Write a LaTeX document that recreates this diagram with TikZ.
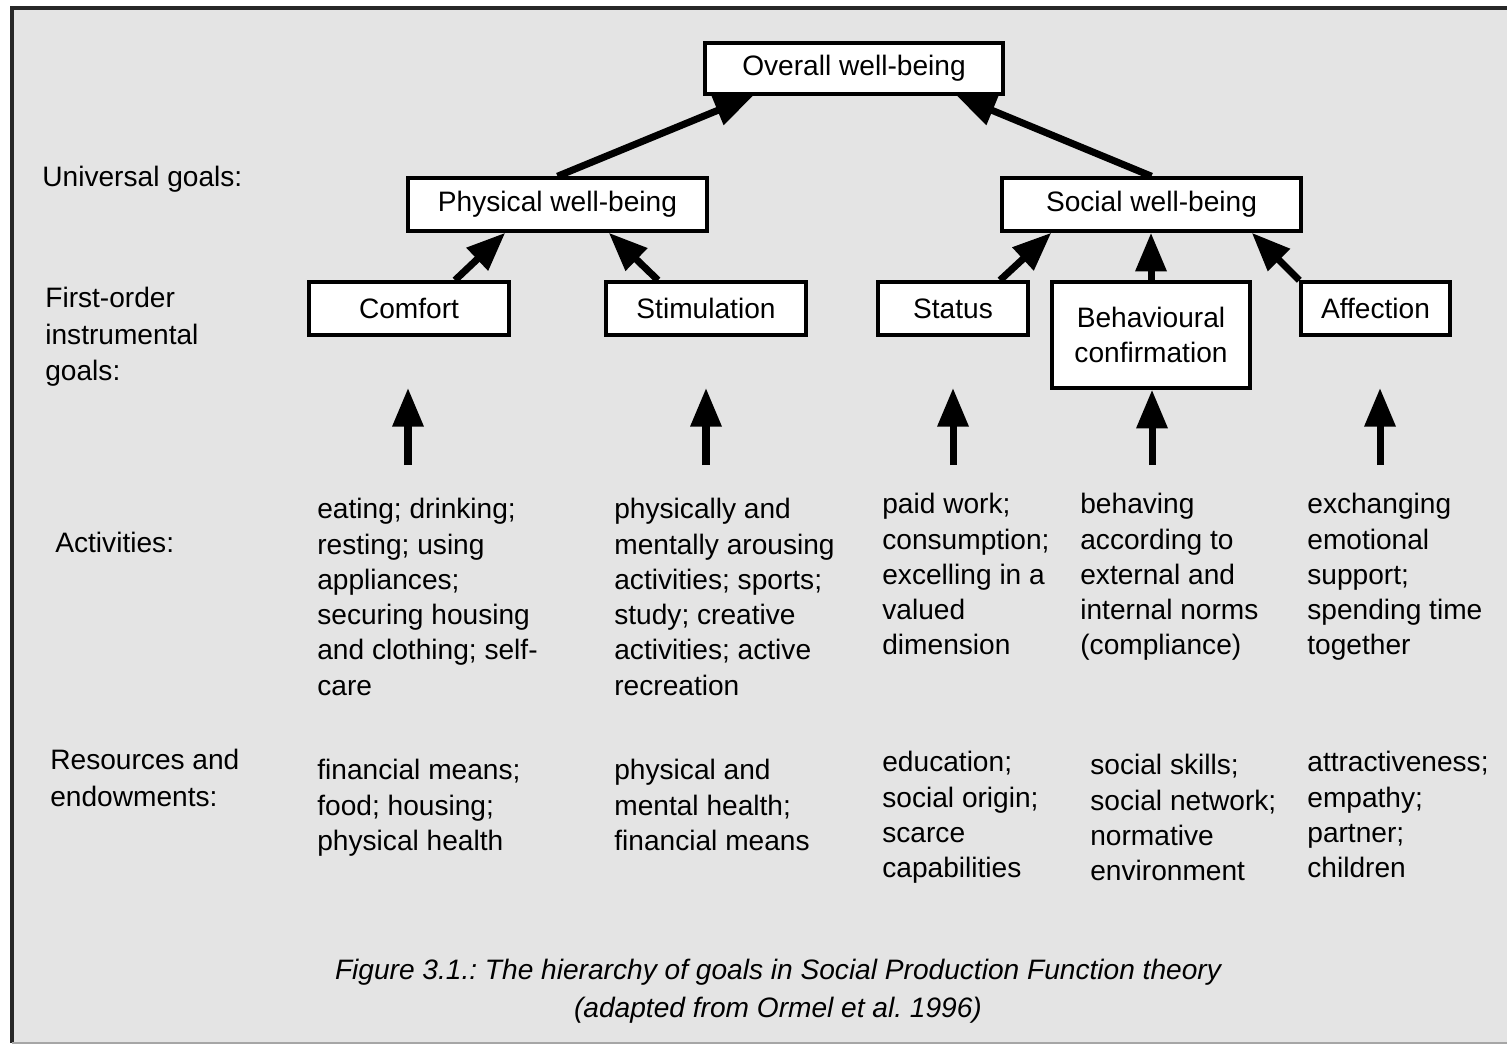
\documentclass[tikz,border=0pt]{standalone}
\usepackage{fontspec}
\setmainfont{Liberation Sans}
\usetikzlibrary{arrows.meta}
\definecolor{panel}{RGB}{228,228,228}
\definecolor{rim}{RGB}{40,40,40}
\frenchspacing
\begin{document}
\begin{tikzpicture}[x=0.02cm,y=-0.02cm,
  goalbox/.style={draw=black, line width=2pt, fill=white, rectangle,
    inner sep=0pt, align=center, font=\fontsize{16}{20.1}\selectfont},
  txt/.style={anchor=north west, inner sep=0pt, align=left,
    font=\fontsize{16}{20.1}\selectfont, execute at begin node=\strut},
  link/.style={line width=4pt, -{Triangle[length=22pt,width=17pt]}},
  caption/.style={inner sep=0pt, align=center,
    font=\fontsize{16}{21.6}\selectfont\itshape}]
\useasboundingbox (0,0) rectangle (1507,1045);
\clip (0,0) rectangle (1507,1045);
% panel
\fill[panel] (12,8) rectangle (1520,1043);
\draw[rim, line width=2.2pt] (12,1043) -- (12,8) -- (1520,8);
\draw[gray!70, line width=1pt] (12,1043) -- (1520,1043);

% goal boxes
\node[goalbox, minimum width=5.96cm, minimum height=1.02cm] (overall) at (854,68.5) {Overall well-being};
\node[goalbox, minimum width=5.98cm, minimum height=1.06cm] (phys) at (557.5,204.5) {Physical well-being};
\node[goalbox, minimum width=5.98cm, minimum height=1.06cm] (social) at (1151.5,204.5) {Social well-being};
\node[goalbox, minimum width=4.00cm, minimum height=1.06cm] (comfort) at (409,308.5) {Comfort};
\node[goalbox, minimum width=4.00cm, minimum height=1.06cm] (stim) at (706,308.5) {Stimulation};
\node[goalbox, minimum width=3.00cm, minimum height=1.06cm] (status) at (953,308.5) {Status};
\node[goalbox, minimum width=3.96cm, minimum height=2.12cm] (behav) at (1151,335) {Behavioural\\confirmation};
\node[goalbox, minimum width=2.98cm, minimum height=1.06cm] (affect) at (1375.5,308.5) {Affection};

% links between goal levels
\draw[link] (phys.north) -- ([xshift=1cm]overall.south west);
\draw[link] (social.north) -- ([xshift=-0.96cm]overall.south east);
\draw[link] ([xshift=0.92cm]comfort.north) -- ([xshift=1.98cm]phys.south west);
\draw[link] ([xshift=-0.96cm]stim.north) -- ([xshift=-2cm]phys.south east);
\draw[link] ([xshift=0.94cm]status.north) -- ([xshift=1.02cm]social.south west);
\draw[link] (behav.north) -- (behav.north |- social.south);
\draw[link] (affect.north west) -- ([xshift=-1.02cm]social.south east);

% activities feeding the first-order goals
\coordinate (c1) at (408,465);  \coordinate (u1) at (408,388);
\coordinate (c2) at (706,465);  \coordinate (u2) at (706,388);
\coordinate (c3) at (953,465);  \coordinate (u3) at (953,388);
\coordinate (c4) at (1152,465);
\coordinate (c5) at (1380,465); \coordinate (u5) at (1380,388);
\draw[link] (c1) -- (u1);
\draw[link] (c2) -- (u2);
\draw[link] (c3) -- (u3);
\draw[link] (c4) -- (c4 |- behav.south);
\draw[link] (c5) -- (u5);

% row labels
\node[txt] (lgoal) at (42,161) {Universal goals:};
\node[txt, font=\fontsize{16}{20.7}\selectfont] (lfirst) at (45,287) {First-order\\instrumental\\goals:};
\node[txt] (lact) at (55,527) {Activities:};
\node[txt, font=\fontsize{16}{21}\selectfont] (lres) at (50,749) {Resources and\\endowments:};

% activities
\node[txt] (act1) at (317,498) {eating; drinking;\\resting; using\\appliances;\\securing housing\\and clothing; self-\\care};
\node[txt] (act2) at (614,498) {physically and\\mentally arousing\\activities; sports;\\study; creative\\activities; active\\recreation};
\node[txt] (act3) at (882,493) {paid work;\\consumption;\\excelling in a\\valued\\dimension};
\node[txt] (act4) at (1080,493) {behaving\\according to\\external and\\internal norms\\(compliance)};
\node[txt] (act5) at (1307,493) {exchanging\\emotional\\support;\\spending time\\together};

% resources and endowments
\node[txt] (res1) at (317,759) {financial means;\\food; housing;\\physical health};
\node[txt] (res2) at (614,759) {physical and\\mental health;\\financial means};
\node[txt] (res3) at (882,751) {education;\\social origin;\\scarce\\capabilities};
\node[txt] (res4) at (1090,754) {social skills;\\social network;\\normative\\environment};
\node[txt] (res5) at (1307,751) {attractiveness;\\empathy;\\partner;\\children};

% caption
\node[caption] (cap) at (778,991) {Figure 3.1.: The hierarchy of goals in Social Production Function theory\\(adapted from Ormel et al. 1996)};
\end{tikzpicture}
\end{document}
